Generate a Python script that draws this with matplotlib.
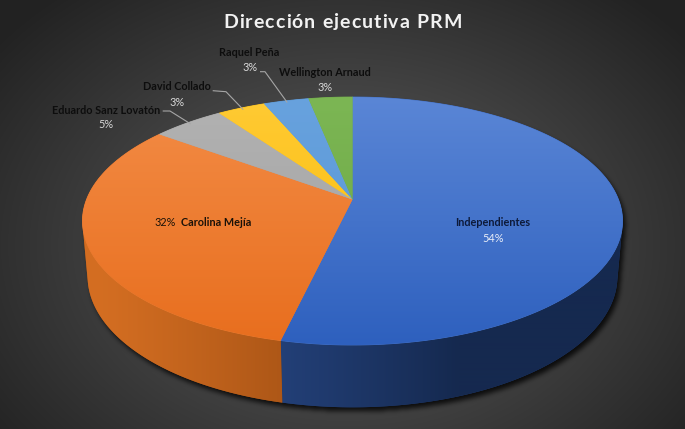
import numpy as np
import matplotlib
matplotlib.use("Agg")
import matplotlib.pyplot as plt
from matplotlib.patches import Polygon
from matplotlib.path import Path

# ---------------- data ----------------
title = "Dirección ejecutiva PRM"
categories = ["Independientes", "Carolina Mejía", "Eduardo Sanz Lovatón",
              "David Collado", "Raquel Peña", "Wellington Arnaud"]
values = [53.6, 31.6, 5.1, 3.4, 3.2, 3.1]   # shares (%)

# ---------------- styles ----------------
top_light = [(90, 134, 214), (243, 140, 70), (178, 178, 178), (255, 202, 52), (104, 162, 222), (124, 182, 84)]
top_dark = [(46, 96, 190), (232, 110, 30), (160, 160, 160), (250, 188, 0), (84, 148, 212), (106, 166, 66)]
side_lit = [(46, 82, 152), (212, 110, 34), (140, 140, 140), (200, 150, 0), (60, 110, 160), (80, 130, 50)]
side_dark = [(21, 41, 79), (128, 60, 10), (90, 90, 90), (130, 100, 0), (40, 75, 110), (50, 85, 30)]

W, H = 685, 429
fig = plt.figure(figsize=(W / 100, H / 100), dpi=100)
ax = fig.add_axes([0, 0, 1, 1])
ax.set_xlim(0, W)
ax.set_ylim(H, 0)
ax.axis("off")

# ---------------- 3D projection of the pie disk ----------------
C = 0.9
S = np.sqrt(1 - C * C)
D = 5.768 * C
FY = 693.7 * C / S
FX = 1534.0 * C
CX, CY = 352.5, 199.5
T = 0.2231


def proj(theta_deg, r, h):
    th = np.radians(theta_deg)
    u = r * np.sin(th)
    v = r * np.cos(th)
    Y = v * S + h * C
    Z = D + v * C - h * S
    return CX + FX * u / Z, CY - FY * Y / Z


def hull(points):
    pts = sorted(map(tuple, points))

    def cross(o, a, b):
        return (a[0] - o[0]) * (b[1] - o[1]) - (a[1] - o[1]) * (b[0] - o[0])
    lower, upper = [], []
    for p in pts:
        while len(lower) >= 2 and cross(lower[-2], lower[-1], p) <= 0:
            lower.pop()
        lower.append(p)
    for p in reversed(pts):
        while len(upper) >= 2 and cross(upper[-2], upper[-1], p) <= 0:
            upper.pop()
        upper.append(p)
    return np.array(lower[:-1] + upper[:-1])


def box_blur(a, r):
    k = 2 * r + 1
    p = np.pad(a, ((r, r), (0, 0)), mode="edge")
    c = np.vstack([np.zeros((1, p.shape[1])), np.cumsum(p, axis=0)])
    a = (c[k:] - c[:-k]) / k
    p = np.pad(a, ((0, 0), (r, r)), mode="edge")
    c = np.hstack([np.zeros((p.shape[0], 1)), np.cumsum(p, axis=1)])
    return (c[:, k:] - c[:, :-k]) / k


# ---------------- background with drop shadow ----------------
yy, xx = np.mgrid[0:H, 0:W] + 0.5
d = np.sqrt(((xx - 345) / 430) ** 2 + ((yy - 245) / 320) ** 2)
g = np.clip(96 - 60 * d, 34, 96) / 255.0

ths = np.linspace(0, 360, 721)
tx, ty = proj(ths, 1, 0)
bx, by = proj(ths, 1, -T)
sil = hull(np.column_stack([np.r_[tx, bx], np.r_[ty, by]]))
mask = Path(sil).contains_points(np.column_stack([xx.ravel() - 3, yy.ravel() - 4])).reshape(H, W).astype(float)
for _ in range(3):
    mask = box_blur(mask, 2)
g = g * (1 - 0.8 * mask)
bg = np.dstack([g, g, g])
ax.imshow(bg, extent=[0, W, H, 0], interpolation="bilinear", aspect="auto", zorder=0)

# ---------------- wedges ----------------
total = float(sum(values))
bounds = np.concatenate([[0.0], np.cumsum(values)]) / total * 360.0
vis = np.degrees(np.arccos(-1.0 / (D * C)))
vis_lo, vis_hi = vis - 0.3, 360 - vis + 0.3

# mapping screen x -> angle on the front wall (for smooth shading)
th_front = np.linspace(vis_lo, vis_hi, 800)
x_front, _ = proj(th_front, 1, -T)
order = np.argsort(x_front)
xcols = np.arange(W) + 0.5
theta_x = np.interp(xcols, x_front[order], th_front[order])
light_x = np.clip(np.cos(np.radians(theta_x - 250)), 0, 1)

# outer side wall
for i in range(len(values)):
    a0, a1 = max(bounds[i], vis_lo), min(bounds[i + 1], vis_hi)
    if a1 <= a0:
        continue
    steps = np.linspace(a0, a1, int((a1 - a0) / 0.5) + 2)
    x1, y1 = proj(steps, 1, 0)
    x2, y2 = proj(steps[::-1], 1, -T)
    verts = np.column_stack([np.r_[x1, x2], np.r_[y1, y2]])
    lit = np.array(side_lit[i]) / 255.0
    dk = np.array(side_dark[i]) / 255.0
    patch = Polygon(verts, closed=True, fc=tuple(0.5 * (lit + dk)), ec="none", lw=0, zorder=2)
    ax.add_patch(patch)
    img = dk[None, None, :] + (lit - dk)[None, None, :] * light_x[None, :, None]
    im = ax.imshow(img, extent=[0, W, H, 0], aspect="auto", interpolation="bilinear", zorder=2.5)
    im.set_clip_path(patch)

# top faces with soft vertical gradient
grad = np.linspace(0, 1, 256)[:, None, None]
for i in range(len(values)):
    th = np.linspace(bounds[i], bounds[i + 1], max(3, int(bounds[i + 1] - bounds[i]) * 2))
    px, py = proj(th, 1, 0)
    verts = np.column_stack([np.r_[CX, px], np.r_[CY, py]])
    lt = np.array(top_light[i]) / 255.0
    dk = np.array(top_dark[i]) / 255.0
    mid = 0.5 * (lt + dk)
    patch = Polygon(verts, closed=True, fc=mid, ec=mid, lw=0.6, zorder=3)
    ax.add_patch(patch)
    img = lt[None, None, :] * (1 - grad) + dk[None, None, :] * grad
    im = ax.imshow(img, extent=[0, W, 345, 97], aspect="auto", interpolation="bilinear", zorder=4)
    im.set_clip_path(patch)

# ---------------- labels ----------------
pct_text = [f"{v / total * 100:.0f}%" for v in values]
name_pos = [(493, 223), (181.5, 222), (106, 110), (177, 86.7), (249.5, 52.7), (325, 72.3)]
pct_pos = [(493, 238.5), (175.5, 222), (105.7, 124.3), (176.7, 102.3), (250, 67.7), (325, 87.7)]
name_colors = ["#0d1a3a", "#1a1208", "#0d0d0d", "#0d0d0d", "#0d0d0d", "#0d0d0d"]
pct_colors = ["#e8edf7", "#1a1208", "#d9d9d9", "#d9d9d9", "#d9d9d9", "#d9d9d9"]
elbows = [None, None, [(162.7, 111), (170, 111)], [(212.7, 90.7), (226, 91.7)],
          [(260, 71.7), (265, 71.7)], None]

FONT = ["Lato", "DejaVu Sans"]
FS = 7.8
for i, name in enumerate(categories):
    if i == 1:
        ax.text(*name_pos[i], name, ha="left", va="center", fontsize=FS, fontweight="bold",
                color=name_colors[i], family=FONT, zorder=6)
        ax.text(*pct_pos[i], pct_text[i], ha="right", va="center", fontsize=FS,
                color=pct_colors[i], family=FONT, zorder=6)
    else:
        ax.text(*name_pos[i], name, ha="center", va="center", fontsize=FS, fontweight="bold",
                color=name_colors[i], family=FONT, zorder=6)
        ax.text(*pct_pos[i], pct_text[i], ha="center", va="center", fontsize=FS,
                color=pct_colors[i], family=FONT, zorder=6)
    if elbows[i] is not None:
        midang = 0.5 * (bounds[i] + bounds[i + 1])
        ex, ey = proj(midang, 0.98, 0)
        xs = [p[0] for p in elbows[i]] + [ex]
        ys = [p[1] for p in elbows[i]] + [ey]
        ax.plot(xs, ys, color="#a6a6a6", lw=0.8, zorder=5, solid_capstyle="butt")

# title with slight letter spacing
renderer = fig.canvas.get_renderer()
tprops = dict(fontsize=14, fontweight="bold", family=FONT)


def text_w(s):
    t = ax.text(0, 0, s + "|", **tprops)
    w = t.get_window_extent(renderer).width
    t.remove()
    return w


bar_w = text_w("")
spacing = 1.1
widths = [text_w(title[:k]) - bar_w for k in range(len(title) + 1)]
full = widths[-1] + spacing * (len(title) - 1)
x0 = 342.5 - full / 2
for k, ch in enumerate(title):
    if ch == " ":
        continue
    ax.text(x0 + widths[k] + spacing * k, 22, ch, ha="left", va="center",
            color="#f2f2f2", zorder=6, **tprops)

ax.set_autoscale_on(False)
ax.set_xlim(0, W)
ax.set_ylim(H, 0)
fig.savefig("out.png", dpi=100)
